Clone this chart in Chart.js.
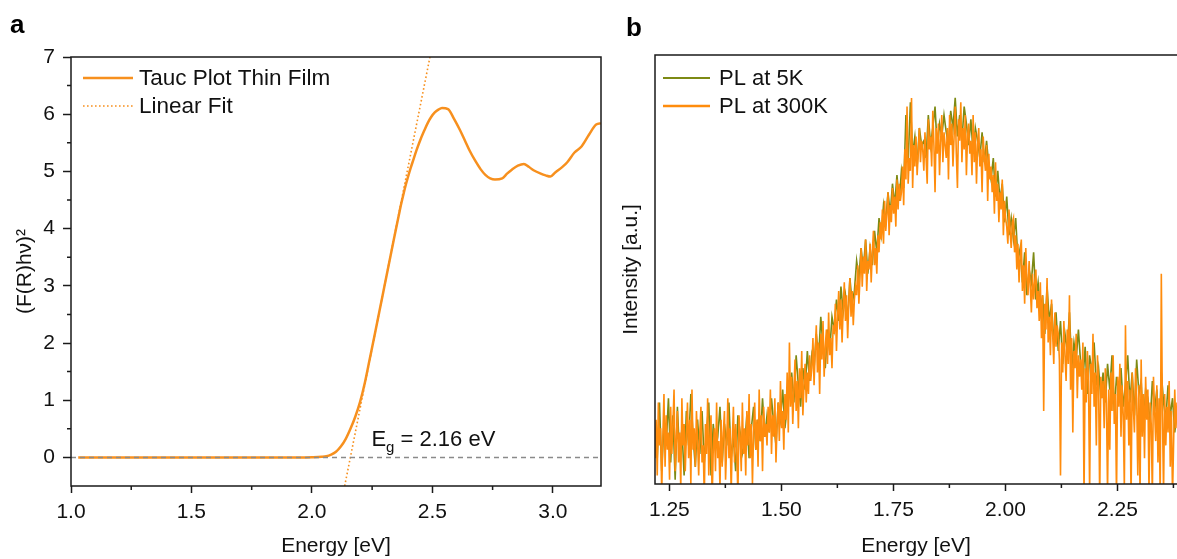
<!DOCTYPE html>
<html>
<head>
<meta charset="utf-8">
<title>Tauc plot and photoluminescence</title>
<script src="https://cdn.jsdelivr.net/npm/chart.js@4.4.1/dist/chart.umd.min.js"></script>
<style>
  html, body { margin: 0; padding: 0; background: #fff; overflow: hidden; }
  #wrap { position: relative; width: 1177px; height: 559px; }
  canvas { position: absolute; top: 0; }
  #tauc { left: 0; }
  #pl { left: 600px; }
</style>
</head>
<body>
<div id="wrap">
  <canvas id="tauc" width="612" height="559"></canvas>
  <canvas id="pl" width="577" height="559"></canvas>
</div>
<script>
// ---------- Panel a: Tauc plot of the thin film ----------
const taucEnergy = [1.03, 1.20, 1.40, 1.60, 1.80, 1.95, 2.00, 2.04, 2.06, 2.08, 2.10,
  2.12, 2.14, 2.16, 2.18, 2.20, 2.22, 2.24, 2.26, 2.28, 2.30, 2.32, 2.34, 2.36, 2.37, 2.38,
  2.39, 2.40, 2.41, 2.42, 2.435, 2.45, 2.465, 2.48, 2.495, 2.51, 2.525, 2.54, 2.565, 2.59,
  2.615, 2.635, 2.655, 2.676, 2.70, 2.72, 2.74, 2.76, 2.79, 2.81, 2.83, 2.855, 2.88, 2.90,
  2.92, 2.95, 2.97, 2.99, 3.01, 3.04, 3.06, 3.09, 3.12, 3.15, 3.18, 3.20];
const taucValue = [0, 0, 0, 0, 0, 0, 0.003, 0.01, 0.02, 0.05, 0.10,
  0.19, 0.32, 0.50, 0.71, 0.97, 1.31, 1.72, 2.13, 2.55, 2.97, 3.39, 3.81, 4.22, 4.42, 4.60,
  4.77, 4.92, 5.06, 5.19, 5.38, 5.55, 5.70, 5.84, 5.95, 6.03, 6.08, 6.11, 6.09, 5.92,
  5.72, 5.54, 5.36, 5.20, 5.04, 4.94, 4.88, 4.86, 4.88, 4.96, 5.03, 5.10, 5.13, 5.08,
  5.02, 4.96, 4.93, 4.91, 4.98, 5.08, 5.16, 5.33, 5.44, 5.64, 5.82, 5.84];
const fitEnergy = [2.136, 2.49];
const fitValue = [-0.5, 7.0];
const bandGap = 2.16;
const baselineEnergy = [1.0, 3.2];
const baselineValue = [0, 0];

const taucXTicks = [1.0, 1.5, 2.0, 2.5, 3.0];
const taucXMinor = [1.25, 1.75, 2.25, 2.75];
const taucYTicks = [0, 1, 2, 3, 4, 5, 6, 7];
const taucYMinor = [0.5, 1.5, 2.5, 3.5, 4.5, 5.5, 6.5];

// ---------- Panel b: photoluminescence spectra ----------
// 5 K spectrum sampled every 5 meV, 300 K spectrum every 2.5 meV
const pl5KStart = 1.218;
const pl5KStep = 0.005;
const pl5K = [
  12, 6, 19, 3, 14, 9, 20, 5, 16, 1,
  18, 6, 13, 2, 17, 9, 21, 11, 4, 15,
  7, 17, 5, 12, 19, 2, 14, 8, 11, 18,
  5, 14, 9, 19, 6, 11, 3, 16, 12, 7,
  9, 16, 6, 13, 18, 8, 15, 10, 20, 11,
  16, 12, 20, 14, 9, 19, 15, 22, 13, 18,
  21, 26, 19, 30, 23, 18, 27, 22, 31, 24,
  30, 27, 35, 29, 39, 32, 27, 36, 31, 39,
  36, 43, 38, 46, 40, 44, 38, 48, 42, 45,
  52, 48, 55, 50, 57, 49, 55, 51, 59, 54,
  62, 58, 65, 61, 68, 63, 70, 65, 72, 66,
  73, 69, 86, 75, 89, 77, 81, 74, 83, 79,
  80, 76, 86, 79, 83, 88, 78, 84, 81, 86,
  82, 79, 87, 83, 90, 81, 86, 80, 88, 84,
  79, 85, 77, 83, 80, 76, 82, 75, 80, 74,
  71, 76, 67, 73, 66, 70, 61, 67, 58, 62,
  57, 62, 52, 55, 47, 54, 44, 50, 47, 54,
  43, 47, 40, 44, 35, 46, 38, 42, 33, 40,
  31, 38, 28, 35, 31, 40, 27, 33, 29, 36,
  28, 24, 32, 21, 30, 26, 33, 23, 27, 20,
  26, 19, 28, 22, 30, 17, 25, 21, 27, 18,
  23, 30, 19, 26, 16, 29, 21, 24, 13, 22,
  20, 14, 24, 17, 22, 11, 26, 19, 15, 23,
  16, 20, 12, 17
];
const pl300KStart = 1.218;
const pl300KStep = 0.0025;
const pl300K = [
  6, 15, 2, 19, 9, 13, -2, 11, 21, 4, 16, 8, 12, 1, 18, 7, 14, 22, 3, 10,
  17, 5, 12, -1, 20, 9, 14, 3, 11, 19, 6, 15, 0, 22, 8, 13, 4, 17, 10, 2,
  12, 18, 5, 9, -3, 14, 7, 20, 2, 11, 16, -4, 8, 13, 3, 19, 6, 10, -1, 15,
  4, 12, 17, 1, 9, 20, 6, 13, -2, 10, 18, 5, 14, 8, -3, 16, 11, 3, 19, 7,
  13, 2, 17, 9, 21, 6, 14, 0, 12, 19, 8, 15, 4, 22, 10, 16, 3, 18, 11, 14,
  9, 18, 12, 22, 7, 16, 11, 20, 5, 14, 19, 10, 24, 13, 17, 8, 21, 15, 26, 12,
  33, 18, 25, 14, 22, 29, 17, 24, 13, 27, 20, 31, 16, 23, 28, 19, 26, 21, 30, 24,
  27, 34, 23, 31, 37, 26, 33, 21, 35, 29, 38, 25, 32, 36, 28, 40, 30, 34, 27, 37,
  35, 42, 31, 39, 45, 36, 43, 33, 41, 47, 38, 44, 34, 42, 48, 39, 45, 37, 43, 46,
  44, 51, 42, 48, 55, 46, 53, 49, 57, 45, 52, 50, 56, 47, 54, 59, 51, 55, 49, 58,
  54, 61, 57, 64, 56, 66, 59, 63, 68, 58, 65, 61, 69, 63, 67, 60, 71, 64, 70, 66,
  68, 74, 65, 78, 71, 88, 70, 76, 73, 90, 69, 79, 74, 81, 72, 77, 83, 75, 80, 78,
  73, 82, 76, 70, 85, 78, 81, 74, 87, 79, 68, 83, 77, 84, 72, 80, 86, 75, 82, 79,
  76, 83, 71, 86, 79, 84, 74, 81, 88, 77, 69, 85, 80, 89, 75, 83, 78, 86, 72, 81,
  84, 77, 80, 72, 86, 75, 82, 70, 79, 83, 74, 78, 68, 81, 76, 73, 79, 66, 77, 71,
  74, 68, 72, 63, 75, 66, 70, 61, 68, 64, 71, 58, 66, 62, 60, 56, 64, 59, 55, 61,
  62, 54, 58, 50, 56, 47, 53, 57, 45, 51, 42, 55, 48, 44, 52, 46, 40, 49, 43, 47,
  50, 41, 45, 38, 47, 34, 44, 17, 42, 36, 48, 33, 39, 30, 43, 35, 28, 40, 32, 37,
  35, 29, 2, 33, 26, 38, 30, 24, 36, 28, 44, 22, 34, 12, 31, 27, 35, 20, 30, 25,
  29, 22, 33, -3, 27, 19, 31, 24, -2, 28, 21, 35, 18, 26, 9, 30, 23, -4, 25, 20,
  24, 13, 27, 19, -2, 22, 8, 26, 17, 30, 14, 21, -3, 25, 18, 28, 11, 23, 16, -1,
  37, 15, 24, 9, 22, -4, 26, 18, 12, 27, 20, 2, 23, -3, 29, 11, 21, 6, 25, 15,
  22, -2, 19, 14, -3, 25, 17, 10, 23, 5, 20, -4, 49, 16, -2, 21, 9, 18, 12, 24,
  4, 17, -3, 10, 22, 13, 19
];
const plXTicks = [1.25, 1.50, 1.75, 2.00, 2.25];
const plXMinor = [1.375, 1.625, 1.875, 2.125, 2.375];

// ---------- shared styling ----------
const FONT = "'Liberation Sans', Arial, Helvetica, sans-serif";
const INK = '#1a1a1a';
const ORANGE = '#ff8c0c';
const TAUC_ORANGE = '#f7901e';
const OLIVE = '#7d8a14';

const toPoints = (xs, ys) => ys.map((y, i) => ({ x: xs[i], y }));
const gridPoints = (start, step, ys) => ys.map((y, i) => ({ x: start + i * step, y }));

// Box frame around the plotting area
const framePlugin = {
  id: 'frame',
  afterDraw(chart, args, opts) {
    const { ctx, chartArea: a } = chart;
    const sides = opts.sides || ['left', 'top', 'right', 'bottom'];
    ctx.save();
    ctx.strokeStyle = INK;
    ctx.lineWidth = 1.5;
    ctx.beginPath();
    if (sides.includes('left')) { ctx.moveTo(a.left, a.top); ctx.lineTo(a.left, a.bottom + 0.75); }
    if (sides.includes('right')) { ctx.moveTo(a.right, a.top); ctx.lineTo(a.right, a.bottom + 0.75); }
    if (sides.includes('top')) { ctx.moveTo(a.left - 0.75, a.top); ctx.lineTo(a.right + 0.75, a.top); }
    if (sides.includes('bottom')) { ctx.moveTo(a.left - 0.75, a.bottom); ctx.lineTo(a.right + 0.75, a.bottom); }
    ctx.stroke();
    ctx.restore();
  }
};

// Short outward minor tick marks
const minorTickPlugin = {
  id: 'minorTicks',
  afterDraw(chart, args, opts) {
    const { ctx, chartArea: a, scales } = chart;
    const len = opts.length || 4;
    ctx.save();
    ctx.strokeStyle = INK;
    ctx.lineWidth = 1.5;
    ctx.beginPath();
    (opts.x || []).forEach(v => {
      const px = scales.x.getPixelForValue(v);
      if (px < a.left - 0.5 || px > a.right + 0.5) return;
      ctx.moveTo(px, a.bottom); ctx.lineTo(px, a.bottom + len);
    });
    (opts.y || []).forEach(v => {
      const py = scales.y.getPixelForValue(v);
      if (py < a.top - 0.5 || py > a.bottom + 0.5) return;
      ctx.moveTo(a.left, py); ctx.lineTo(a.left - len, py);
    });
    ctx.stroke();
    ctx.restore();
  }
};

// Legend drawn inside the plotting area from the dataset styles
const inlineLegendPlugin = {
  id: 'inlineLegend',
  afterDraw(chart, args, opts) {
    const { ctx } = chart;
    const items = chart.data.datasets.filter(d => d.label);
    ctx.save();
    ctx.font = `${opts.fontSize}px ${FONT}`;
    ctx.textBaseline = 'middle';
    ctx.textAlign = 'left';
    items.forEach((d, i) => {
      const y = opts.y + i * opts.rowHeight;
      ctx.strokeStyle = d.borderColor;
      ctx.lineWidth = d.legendLineWidth || d.borderWidth;
      ctx.setLineDash(d.borderDash || []);
      ctx.beginPath();
      ctx.moveTo(opts.x, y);
      ctx.lineTo(opts.x + opts.lineLength, y);
      ctx.stroke();
      ctx.setLineDash([]);
      ctx.fillStyle = '#111';
      ctx.fillText(d.label, opts.textX, y + 1);
    });
    ctx.restore();
  }
};

// Panel letter in the top left corner
const panelLetterPlugin = {
  id: 'panelLetter',
  afterDraw(chart, args, opts) {
    const { ctx } = chart;
    ctx.save();
    ctx.font = `bold 26px ${FONT}`;
    ctx.fillStyle = '#000';
    ctx.textBaseline = 'alphabetic';
    ctx.fillText(opts.text, opts.x, opts.y);
    ctx.restore();
  }
};

// Band-gap annotation next to the fit intercept
const bandGapPlugin = {
  id: 'bandGapLabel',
  afterDraw(chart, args, opts) {
    if (!opts.value) return;
    const { ctx } = chart;
    const x = chart.scales.x.getPixelForValue(opts.atX);
    const y = chart.scales.y.getPixelForValue(opts.atY);
    ctx.save();
    ctx.fillStyle = '#111';
    ctx.textBaseline = 'alphabetic';
    ctx.font = `22px ${FONT}`;
    ctx.fillText('E', x, y);
    let cx = x + ctx.measureText('E').width;
    ctx.font = `15px ${FONT}`;
    ctx.fillText('g', cx, y + 6);
    cx += ctx.measureText('g').width;
    ctx.font = `22px ${FONT}`;
    ctx.fillText(` = ${opts.value.toFixed(2)} eV`, cx, y);
    ctx.restore();
  }
};

const tickFont = { family: FONT, size: 21 };
const titleFont = { family: FONT, size: 21 };

// ---------- Panel a ----------
new Chart(document.getElementById('tauc'), {
  type: 'line',
  data: {
    datasets: [
      {
        data: toPoints(baselineEnergy, baselineValue),
        borderColor: '#8a8a8a', borderWidth: 1.5, borderDash: [5, 4],
        pointRadius: 0, order: -1
      },
      {
        label: 'Tauc Plot Thin Film',
        data: toPoints(taucEnergy, taucValue),
        borderColor: TAUC_ORANGE, borderWidth: 2.5,
        cubicInterpolationMode: 'monotone',
        pointRadius: 0, order: 0
      },
      {
        label: 'Linear Fit',
        data: toPoints(fitEnergy, fitValue),
        borderColor: TAUC_ORANGE, borderWidth: 1.6, borderDash: [1.6, 2.4],
        pointRadius: 0, order: 1
      }
    ]
  },
  options: {
    responsive: false,
    animation: false,
    devicePixelRatio: 1,
    layout: { padding: { left: 0, top: 57, right: 11, bottom: 0 } },
    plugins: {
      legend: { display: false },
      tooltip: { enabled: false },
      frame: { sides: ['left', 'top', 'right', 'bottom'] },
      minorTicks: { x: taucXMinor, y: taucYMinor, length: 4 },
      inlineLegend: { x: 83, y: 78, rowHeight: 28, lineLength: 50, textX: 139, fontSize: 22.5 },
      panelLetter: { text: 'a', x: 10, y: 33 },
      bandGapLabel: { value: bandGap, atX: 2.247, atY: 0.2 }
    },
    scales: {
      x: {
        type: 'linear', min: 1.0, max: 3.2,
        afterBuildTicks: s => { s.ticks = taucXTicks.map(v => ({ value: v })); },
        afterFit: s => { s.height = 73; },
        grid: { drawOnChartArea: false, drawTicks: true, tickLength: 7, tickColor: INK, tickWidth: 1.5 },
        border: { display: false },
        ticks: { font: tickFont, color: '#111', padding: 7, maxRotation: 0,
                 callback: v => Number(v).toFixed(1) },
        title: { display: true, text: 'Energy [eV]', font: titleFont, color: '#111',
                 padding: { top: 0, bottom: 0 } }
      },
      y: {
        type: 'linear', min: -0.5, max: 7,
        afterBuildTicks: s => { s.ticks = taucYTicks.map(v => ({ value: v })); },
        afterFit: s => { s.width = 71; },
        grid: { drawOnChartArea: false, drawTicks: true, tickLength: 8, tickColor: INK, tickWidth: 1.5 },
        border: { display: false },
        ticks: { font: tickFont, color: '#111', padding: 8, callback: v => String(v) },
        title: { display: true, text: '(F(R)h\u03BD)\u00B2', font: titleFont, color: '#111',
                 padding: { top: 13, bottom: 0 } }
      }
    }
  },
  plugins: [framePlugin, minorTickPlugin, inlineLegendPlugin, panelLetterPlugin, bandGapPlugin]
});

// ---------- Panel b ----------
new Chart(document.getElementById('pl'), {
  type: 'line',
  data: {
    datasets: [
      {
        label: 'PL at 5K',
        data: gridPoints(pl5KStart, pl5KStep, pl5K),
        borderColor: OLIVE, borderWidth: 1.6, legendLineWidth: 2,
        pointRadius: 0, tension: 0, clip: 0, order: 1
      },
      {
        label: 'PL at 300K',
        data: gridPoints(pl300KStart, pl300KStep, pl300K),
        borderColor: ORANGE, borderWidth: 1.6, legendLineWidth: 2.5,
        pointRadius: 0, tension: 0, clip: 0, order: 0
      }
    ]
  },
  options: {
    responsive: false,
    animation: false,
    devicePixelRatio: 1,
    layout: { padding: { left: 0, top: 55, right: 0, bottom: 0 } },
    plugins: {
      legend: { display: false },
      tooltip: { enabled: false },
      frame: { sides: ['left', 'top', 'bottom'] },
      minorTicks: { x: plXMinor, y: [], length: 4 },
      inlineLegend: { x: 63, y: 78, rowHeight: 28, lineLength: 47, textX: 119, fontSize: 22 },
      panelLetter: { text: 'b', x: 26, y: 36 }
    },
    scales: {
      x: {
        type: 'linear', min: 1.218, max: 2.383,
        afterBuildTicks: s => { s.ticks = plXTicks.map(v => ({ value: v })); },
        afterFit: s => { s.height = 75; },
        grid: { drawOnChartArea: false, drawTicks: true, tickLength: 7, tickColor: INK, tickWidth: 1.5 },
        border: { display: false },
        ticks: { font: tickFont, color: '#111', padding: 7, maxRotation: 0,
                 callback: v => Number(v).toFixed(2) },
        title: { display: true, text: 'Energy [eV]', font: titleFont, color: '#111',
                 padding: { top: 0, bottom: 0 } }
      },
      y: {
        type: 'linear', min: 0, max: 100,
        afterFit: s => { s.width = 55; },
        grid: { display: false },
        border: { display: false },
        ticks: { display: false },
        title: { display: true, text: 'Intensity [a.u.]', font: titleFont, color: '#111',
                 padding: { top: 19, bottom: 0 } }
      }
    }
  },
  plugins: [framePlugin, minorTickPlugin, inlineLegendPlugin, panelLetterPlugin]
});
</script>
</body>
</html>
